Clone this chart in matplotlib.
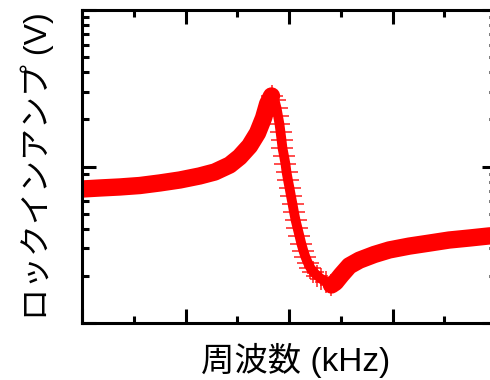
import matplotlib
matplotlib.use("Agg")
import matplotlib.pyplot as plt
from matplotlib.ticker import MultipleLocator, LogLocator, NullFormatter

# lock-in output vs frequency
# rising side up to the peak
f_rise = [30.000, 30.173, 30.366, 30.559, 30.752, 30.945, 31.137, 31.282,
          31.427, 31.523, 31.619, 31.696, 31.754, 31.793, 31.831]
v_rise = [0.718, 0.729, 0.740, 0.756, 0.785, 0.820, 0.870, 0.922,
          1.022, 1.150, 1.352, 1.637, 2.041, 2.508, 2.822]

# steep fall from the peak to the dip
f_fall = [31.831, 31.860, 31.880, 31.894, 31.908, 31.918, 31.928, 31.937,
          31.952, 31.966, 31.976, 31.990, 32.005, 32.019, 32.034, 32.048,
          32.063, 32.082, 32.101, 32.120, 32.140, 32.159, 32.183, 32.207,
          32.236, 32.275, 32.313, 32.361, 32.410]
v_fall = [2.822, 2.660, 2.364, 2.102, 1.869, 1.661, 1.477, 1.313,
          1.167, 1.037, 0.922, 0.820, 0.729, 0.648, 0.576, 0.512,
          0.455, 0.405, 0.360, 0.320, 0.288, 0.264, 0.242, 0.225,
          0.212, 0.200, 0.191, 0.183, 0.175]

# recovery after the dip
f_rec = [32.410, 32.448, 32.506, 32.583, 32.680, 32.824, 32.969, 33.161,
         33.354, 33.547, 33.740, 33.933, 34.000]
v_rec = [0.175, 0.182, 0.203, 0.232, 0.252, 0.274, 0.293, 0.310,
         0.324, 0.339, 0.349, 0.360, 0.362]

plt.rcParams['font.family'] = ['Liberation Sans', 'Noto Sans CJK JP', 'DejaVu Sans']

fig = plt.figure(figsize=(4.9, 3.8), dpi=100)
# right edge of the box sits just past the picture edge, like the reference
ax = fig.add_axes([82 / 490, 1 - 323 / 380, (496 - 82) / 490, (323 - 10) / 380])

red = '#ff0000'
ax.plot(f_rise, v_rise, '-', color=red, lw=12.5, solid_capstyle='round', solid_joinstyle='round')
ax.plot(f_rec, v_rec, '-', color=red, lw=12.5, solid_capstyle='round', solid_joinstyle='round')
ax.plot(f_fall, v_fall, '-', color=red, lw=7, solid_capstyle='round')
ax.plot(f_fall, v_fall, '+', color=red, ms=16, mew=1.3, alpha=0.75)

ax.set_yscale('log')
ax.set_xlim(30, 34)
ax.set_ylim(0.1, 10)
ax.xaxis.set_major_locator(MultipleLocator(1))
ax.xaxis.set_minor_locator(MultipleLocator(0.5))
ax.yaxis.set_major_locator(LogLocator(base=10))
ax.yaxis.set_minor_locator(LogLocator(base=10, subs=range(2, 10)))
ax.yaxis.set_minor_formatter(NullFormatter())

for s in ax.spines.values():
    s.set_linewidth(2.2)
ax.tick_params(which='both', direction='in', top=True, right=True,
               labelleft=False, labelbottom=False, width=2.2)
ax.tick_params(which='major', length=10)
ax.tick_params(which='minor', length=5)

ax.set_xlabel('周波数 (kHz)', fontsize=24)
ax.xaxis.set_label_coords(0.515, -0.12)
ax.xaxis.label.set_va('center')
ax.set_ylabel('ロックインアンプ (V)', fontsize=23, labelpad=20)

fig.savefig('out.png', dpi=100)
